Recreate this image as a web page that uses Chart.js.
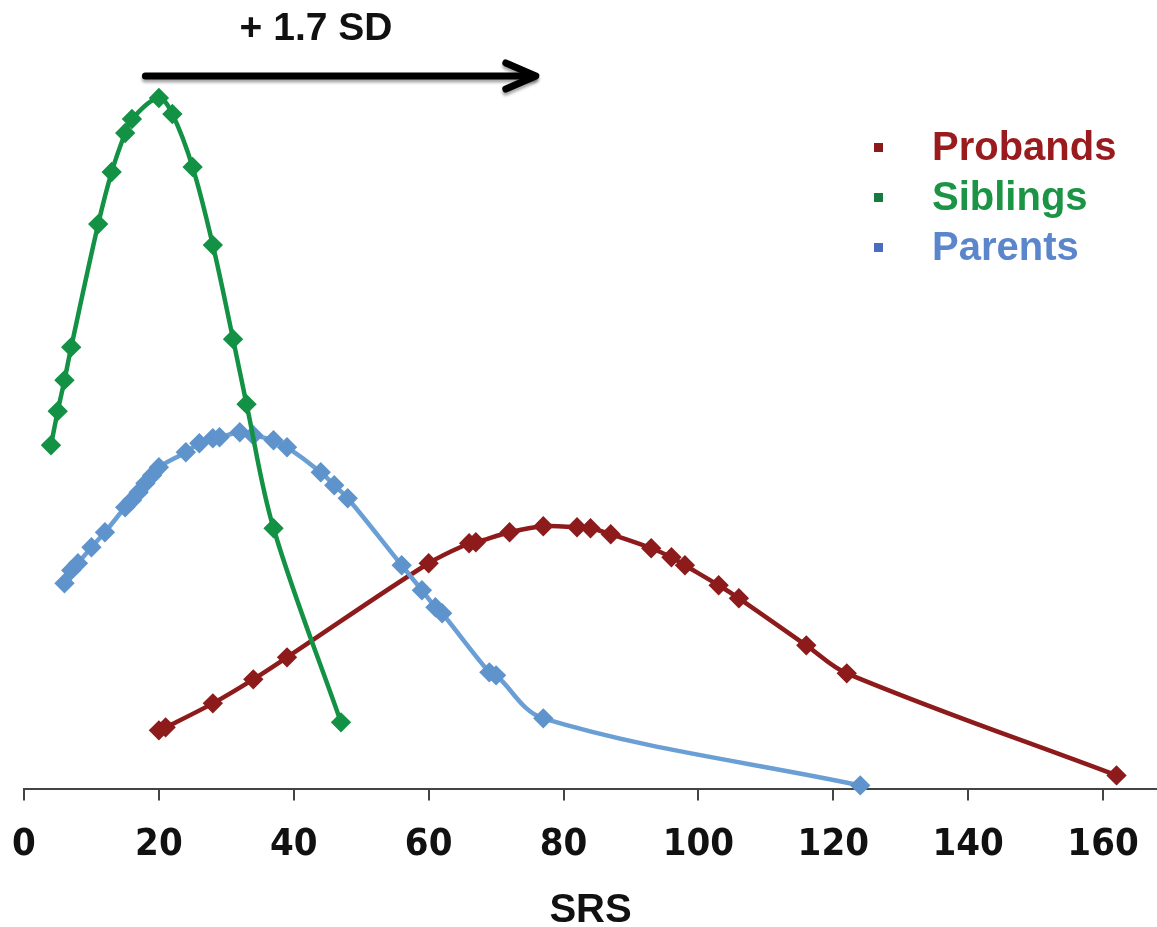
<!DOCTYPE html>
<html>
<head>
<meta charset="utf-8">
<script src="https://cdn.jsdelivr.net/npm/chart.js@4.4.1/dist/chart.umd.min.js"></script>
<style>
  html, body { margin: 0; padding: 0; background: #fff; overflow: hidden; }
  .chart-container { width: 1157px; height: 927px; position: relative; }
</style>
</head>
<body>
<div class="chart-container">
    <canvas id="srsChart"></canvas>
</div>

<script>
// SRS score (x) and relative frequency (y, arbitrary units)
const probandsX = [20, 21, 28, 34, 39, 60, 66, 67, 72, 77, 82, 84, 87, 93, 96, 98, 103, 106, 116, 122, 162];
const probandsY = [5.9, 6.2, 8.6, 11.0, 13.2, 22.6, 24.6, 24.7, 25.7, 26.3, 26.2, 26.1, 25.5, 24.1, 23.2, 22.4, 20.4, 19.1, 14.4, 11.6, 1.4];

const siblingsX = [4, 5, 6, 7, 11, 13, 15, 16, 20, 22, 25, 28, 31, 33, 37, 47];
const siblingsY = [34.4, 37.8, 40.9, 44.2, 56.5, 61.7, 65.6, 67.0, 69.1, 67.5, 62.2, 54.4, 45.0, 38.5, 26.1, 6.7];

const parentsX = [6, 7, 8, 10, 12, 15, 16, 17, 18, 19, 20, 24, 26, 28, 29, 32, 34, 37, 39, 44, 46, 48, 56, 59, 61, 62, 69, 70, 77, 124];
const parentsY = [20.6, 21.9, 22.6, 24.2, 25.7, 28.2, 28.9, 29.7, 30.6, 31.4, 32.2, 33.7, 34.6, 35.1, 35.2, 35.7, 35.4, 34.9, 34.2, 31.7, 30.4, 29.1, 22.4, 19.9, 18.2, 17.6, 11.7, 11.4, 7.1, 0.4];

const xTicks = [0, 20, 40, 60, 80, 100, 120, 140, 160];
const seriesNames = ['Probands', 'Siblings', 'Parents'];
const shiftFrom = 18, shiftTo = 75;   // the "+ 1.7 SD" arrow, in SRS units
const shiftLabel = '+ 1.7 SD';

const toPoints = (xs, ys) => xs.map((x, i) => ({ x: x, y: ys[i] }));

const lineColors = ['#8e1b1b', '#139144', '#6a9fd5'];
const pointColors = ['#8e1b1b', '#139144', '#5e93cc'];
const textColors = ['#9a1b1e', '#1b9445', '#5b86cc'];
const markerColors = ['#8b1a1a', '#177a3f', '#4a6dbf'];

const FONT = "'Liberation Sans', Arial, sans-serif";

// legend + arrow annotation drawn on top of the chart
const extrasPlugin = {
    id: 'extras',
    afterDraw(chart) {
        const ctx = chart.ctx;
        const xs = chart.scales.x;

        // legend
        ctx.save();
        ctx.font = 'bold 40px ' + FONT;
        ctx.textBaseline = 'middle';
        ctx.textAlign = 'left';
        seriesNames.forEach((name, i) => {
            const y = 148 + i * 50;
            ctx.fillStyle = markerColors[i];
            ctx.fillRect(874, y - 5, 9, 9);
            ctx.fillStyle = textColors[i];
            ctx.fillText(name, 932, y + 1);
        });
        ctx.restore();

        // arrow
        const x1 = xs.getPixelForValue(shiftFrom);
        const x2 = xs.getPixelForValue(shiftTo);
        const ay = 76;
        ctx.save();
        ctx.shadowColor = 'rgba(0,0,0,0.35)';
        ctx.shadowOffsetY = 3;
        ctx.shadowBlur = 3;
        ctx.strokeStyle = '#000';
        ctx.lineWidth = 7;
        ctx.lineCap = 'round';
        ctx.lineJoin = 'round';
        ctx.beginPath();
        ctx.moveTo(x1, ay);
        ctx.lineTo(x2 + 4, ay);
        ctx.stroke();
        ctx.beginPath();
        ctx.moveTo(x2 - 24, ay - 13);
        ctx.lineTo(x2 + 6, ay);
        ctx.lineTo(x2 - 24, ay + 13);
        ctx.stroke();
        ctx.restore();

        ctx.save();
        ctx.font = 'bold 39px ' + FONT;
        ctx.fillStyle = '#111';
        ctx.textAlign = 'center';
        ctx.textBaseline = 'middle';
        ctx.fillText(shiftLabel, 316, 29);
        ctx.restore();
    }
};

const makeSet = (i, xs, ys) => ({
    label: seriesNames[i],
    data: toPoints(xs, ys),
    borderColor: lineColors[i],
    backgroundColor: pointColors[i],
    pointBackgroundColor: pointColors[i],
    pointBorderColor: pointColors[i],
    borderWidth: 4.5,
    pointStyle: 'rectRot',
    pointRadius: 7,
    pointHoverRadius: 7,
    tension: 0.35,
    fill: false,
    clip: false
});

const ctx = document.getElementById('srsChart').getContext('2d');
new Chart(ctx, {
    type: 'scatter',
    data: {
        datasets: [
            makeSet(1, siblingsX, siblingsY),
            makeSet(2, parentsX, parentsY),
            makeSet(0, probandsX, probandsY)
        ].map(d => Object.assign(d, { showLine: true }))
    },
    options: {
        responsive: true,
        maintainAspectRatio: false,
        animation: false,
        layout: {
            autoPadding: false,
            padding: { top: 89, left: 24, right: 0, bottom: 0 }
        },
        scales: {
            x: {
                type: 'linear',
                min: 0,
                max: 168,
                afterBuildTicks: function(scale) {
                    scale.ticks = xTicks.map(v => ({ value: v }));
                },
                afterFit: function(scale) {
                    // let the layout padding alone decide the left/right edges
                    scale.paddingLeft = 0;
                    scale.paddingRight = 0;
                },
                ticks: {
                    padding: 22,
                    color: '#111',
                    font: { family: "'Liberation Sans Narrow', 'DejaVu Sans Condensed', " + FONT, size: 38, weight: 'bold' }
                },
                grid: {
                    drawOnChartArea: false,
                    drawTicks: true,
                    tickLength: 11,
                    color: '#444',
                    lineWidth: 2
                },
                border: {
                    display: true,
                    color: '#444',
                    width: 2
                },
                title: {
                    display: true,
                    text: 'SRS',
                    color: '#111',
                    padding: { top: 5, bottom: 0 },
                    font: { family: FONT, size: 40, weight: 'bold', lineHeight: 0.8 }
                }
            },
            y: {
                display: false,
                min: 0,
                max: 70
            }
        },
        plugins: {
            legend: { display: false },
            tooltip: { enabled: false }
        }
    },
    plugins: [extrasPlugin]
});
</script>
</body>
</html>
